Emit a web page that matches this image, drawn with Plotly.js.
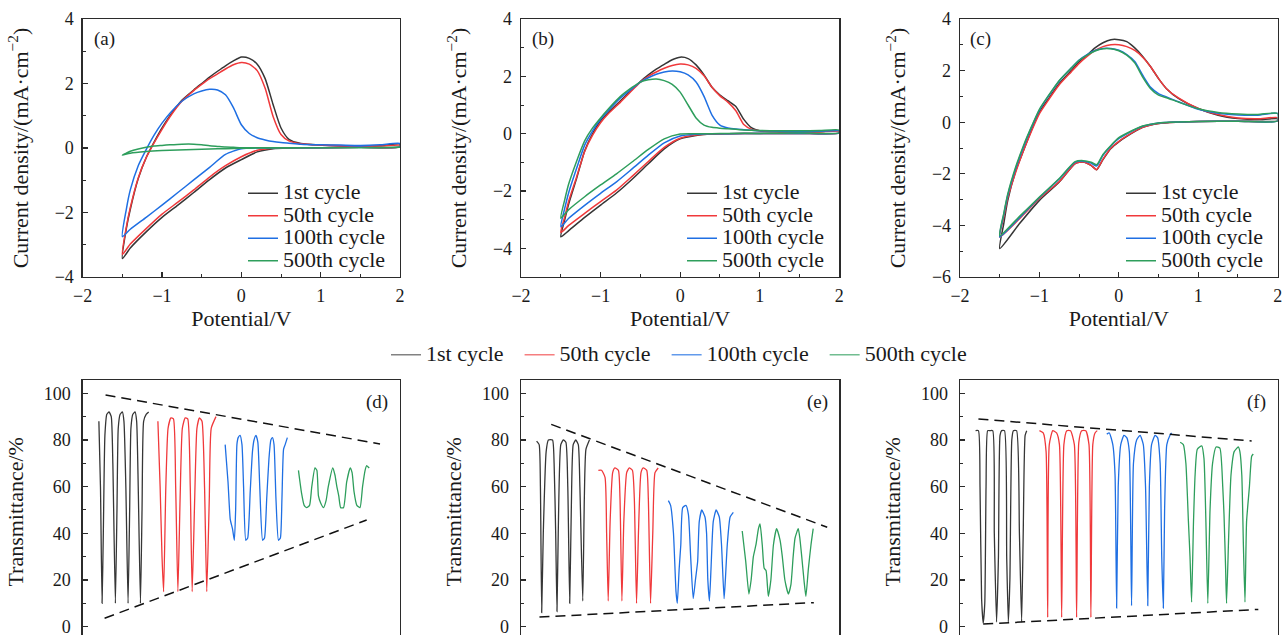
<!DOCTYPE html>
<html>
<head>
<meta charset="utf-8">
<script src="https://cdn.plot.ly/plotly-3.0.1.min.js"></script>
<style>
html,body{margin:0;padding:0;overflow:hidden;background:#fff;}
#chart{width:1284px;height:700px;}
</style>
</head>
<body>
<div id="chart"></div>
<script>
// ---------------- DATA ----------------
const cycleNames = ['1st cycle', '50th cycle', '100th cycle', '500th cycle'];
const cycleColors = ['#363636', '#f0393b', '#1f6fe3', '#2e9e5c'];
const legendSwatchColors = ['rgba(54,54,54,0.62)', 'rgba(240,57,59,0.65)', 'rgba(31,111,227,0.7)', 'rgba(46,158,92,0.68)'];

// Panel (a) – cyclic voltammetry
const aUpV = [-1.5,-1.45,-1.4,-1.3,-1.2,-1.1,-1.0,-0.9,-0.75,-0.6,-0.5,-0.4,-0.3,-0.2,-0.1,0,0.1,0.2,0.3,0.4,0.5,0.6,0.75,1.0,1.25,1.5,1.75,2.0];
const aLoV = [2.0,1.5,1.0,0.6,0.4,0.2,0,-0.2,-0.4,-0.6,-0.8,-1.0,-1.2,-1.4,-1.5];
const aUp1 = [-3.43,-2.5,-1.9,-0.95,-0.3,0.18,0.62,1.0,1.48,1.8,2.0,2.2,2.38,2.55,2.7,2.82,2.78,2.6,2.15,1.35,0.62,0.27,0.14,0.09,0.07,0.06,0.07,0.12];
const aUp2 = [-3.3,-2.45,-1.85,-0.93,-0.3,0.16,0.58,0.97,1.45,1.78,1.97,2.15,2.3,2.45,2.58,2.65,2.6,2.4,1.85,0.98,0.42,0.22,0.13,0.09,0.07,0.06,0.06,0.08];
const aUp3 = [-2.75,-1.9,-1.3,-0.55,-0.05,0.4,0.77,1.08,1.45,1.68,1.77,1.82,1.8,1.65,1.25,0.72,0.45,0.32,0.25,0.2,0.17,0.15,0.12,0.1,0.09,0.08,0.1,0.14];
const aUp4 = [-0.22,-0.16,-0.1,-0.03,0.02,0.06,0.08,0.1,0.12,0.12,0.1,0.07,0.05,0.03,0.02,0.01,0.01,0.01,0.01,0.01,0.01,0.01,0.01,0.01,0.01,0.01,0.01,0.02];
const aLo1 = [0.03,0.02,0.01,0.0,-0.02,-0.12,-0.36,-0.62,-0.98,-1.38,-1.77,-2.15,-2.6,-3.1,-3.43];
const aLo2 = [0.03,0.02,0.01,0.0,-0.01,-0.07,-0.27,-0.55,-0.9,-1.3,-1.68,-2.05,-2.5,-2.98,-3.3];
const aLo3 = [0.04,0.02,0.01,0.01,0.0,0.0,-0.02,-0.2,-0.6,-0.99,-1.38,-1.77,-2.15,-2.52,-2.75];
const aLo4 = [0.02,0.01,0.01,0.0,0.0,0.0,-0.01,-0.02,-0.03,-0.05,-0.06,-0.08,-0.11,-0.16,-0.22];

// Panel (b)
const bUpV = [-1.5,-1.45,-1.4,-1.3,-1.2,-1.1,-1.0,-0.9,-0.75,-0.6,-0.5,-0.4,-0.3,-0.2,-0.1,0,0.1,0.2,0.3,0.4,0.5,0.6,0.7,0.8,0.9,1.0,1.25,1.5,1.75,2.0];
const bLoV = [2.0,1.5,1.0,0.6,0.4,0.2,0,-0.2,-0.4,-0.6,-0.8,-1.0,-1.2,-1.4,-1.5];
const bUp1 = [-3.6,-3.0,-2.45,-1.55,-0.6,0.0,0.45,0.75,1.15,1.55,1.82,2.05,2.25,2.42,2.58,2.67,2.62,2.4,2.05,1.62,1.35,1.15,0.95,0.5,0.2,0.1,0.07,0.06,0.07,0.1];
const bUp2 = [-3.45,-2.9,-2.35,-1.5,-0.62,-0.05,0.38,0.7,1.1,1.52,1.8,2.0,2.15,2.28,2.38,2.43,2.4,2.28,2.02,1.62,1.32,1.1,0.8,0.32,0.15,0.1,0.07,0.06,0.06,0.08];
const bUp3 = [-3.25,-2.6,-2.05,-1.2,-0.4,0.1,0.5,0.82,1.25,1.58,1.8,1.95,2.07,2.15,2.19,2.16,2.05,1.8,1.3,0.65,0.3,0.2,0.16,0.14,0.12,0.1,0.08,0.07,0.08,0.1];
const bUp4 = [-2.95,-2.3,-1.75,-0.95,-0.25,0.2,0.55,0.87,1.3,1.62,1.8,1.88,1.91,1.85,1.72,1.45,1.0,0.55,0.3,0.22,0.19,0.17,0.15,0.13,0.12,0.11,0.1,0.1,0.11,0.13];
const bLo1 = [0.02,0.01,0.01,0.0,-0.01,-0.06,-0.18,-0.53,-1.05,-1.58,-2.07,-2.49,-2.92,-3.38,-3.6];
const bLo2 = [0.02,0.01,0.01,0.0,-0.01,-0.05,-0.16,-0.48,-0.97,-1.48,-1.97,-2.37,-2.78,-3.2,-3.45];
const bLo3 = [0.02,0.01,0.01,0.0,0.0,-0.02,-0.08,-0.32,-0.75,-1.22,-1.68,-2.08,-2.5,-2.95,-3.25];
const bLo4 = [0.03,0.02,0.01,0.01,0.0,0.0,-0.01,-0.18,-0.55,-0.98,-1.4,-1.79,-2.2,-2.65,-2.95];

// Panel (c)
const cUpV = [-1.5,-1.45,-1.4,-1.3,-1.2,-1.1,-1.0,-0.9,-0.75,-0.6,-0.5,-0.4,-0.3,-0.2,-0.1,0,0.1,0.2,0.3,0.4,0.5,0.6,0.75,1.0,1.25,1.5,1.75,2.0];
const cLoV = [2.0,1.5,1.0,0.75,0.5,0.3,0.1,0,-0.1,-0.2,-0.28,-0.35,-0.45,-0.55,-0.75,-1.0,-1.25,-1.5];
const cUp1 = [-4.9,-3.95,-3.05,-1.9,-1.1,-0.3,0.4,0.85,1.5,2.0,2.34,2.6,2.88,3.08,3.2,3.2,3.12,2.88,2.55,2.15,1.69,1.3,0.92,0.53,0.27,0.14,0.1,0.13];
const cUp2 = [-4.45,-3.7,-2.95,-1.95,-1.1,-0.35,0.33,0.8,1.45,1.95,2.28,2.55,2.78,2.93,3.0,3.0,2.93,2.78,2.52,2.15,1.69,1.3,0.94,0.53,0.3,0.16,0.13,0.18];
const cUp3 = [-4.45,-3.6,-2.85,-1.8,-0.95,-0.2,0.47,0.95,1.6,2.1,2.41,2.62,2.78,2.86,2.86,2.79,2.62,2.35,1.82,1.35,1.11,0.98,0.79,0.5,0.35,0.28,0.27,0.34];
const cUp4 = [-4.4,-3.55,-2.8,-1.75,-0.9,-0.17,0.5,0.97,1.62,2.1,2.4,2.6,2.76,2.85,2.85,2.77,2.6,2.3,1.75,1.3,1.05,0.95,0.78,0.52,0.38,0.32,0.3,0.34];
const cLo1 = [0.05,0.04,0.03,0.0,-0.05,-0.2,-0.55,-0.76,-1.02,-1.45,-1.84,-1.67,-1.54,-1.6,-2.32,-3.03,-3.93,-4.9];
const cLo2 = [0.05,0.04,0.03,0.0,-0.05,-0.2,-0.53,-0.74,-1.0,-1.43,-1.84,-1.67,-1.54,-1.6,-2.3,-2.96,-3.74,-4.45];
const cLo3 = [0.05,0.04,0.03,0.01,-0.03,-0.16,-0.45,-0.63,-0.92,-1.28,-1.7,-1.58,-1.51,-1.55,-2.2,-2.92,-3.7,-4.45];
const cLo4 = [0.05,0.04,0.03,0.01,-0.03,-0.15,-0.43,-0.6,-0.9,-1.25,-1.65,-1.55,-1.49,-1.53,-2.18,-2.9,-3.65,-4.4];

// Panel (d) – transmittance vs time (relative units)
const dT1 = [5.1,5.6,6.1,6.5,7.0,7.6,8.3,9.0,9.5,10.3,10.8,11.2,11.8,12.5,13.0,13.6,14.3,14.8,15.2,15.8,16.5,17.0,17.5,18.2,18.7,19.2,20.0,20.8];
const dY1 = [88,60,10,40,82,91,92,90,70,10,50,85,91,92,88,60,10,50,85,91,92,88,60,10,50,88,91,92];
const dT2 = [23.7,24.4,25.0,25.5,26.2,26.9,27.8,28.6,29.3,30.0,30.7,31.4,32.3,33.1,33.9,34.5,35.3,36.0,36.8,37.6,38.4,39.1,39.9,40.5,42.0];
const dY2 = [88,60,30,15,60,85,89.5,89,60,15,55,85,89.5,89,60,15,55,85,89.5,88,60,15,55,85,90];
const dT3 = [44.9,45.8,46.5,47.2,47.8,48.2,48.6,49.0,49.6,50.2,50.7,51.4,52.0,52.8,53.5,54.0,54.6,55.2,55.8,56.7,57.3,58.0,58.7,59.3,59.8,60.3,60.9,61.7,62.3,62.8,63.3,63.8,64.5];
const dY3 = [78,62,46,42,37,50,78,81,82,78,60,37,38,58,75,80,82,79,60,37,38,55,72,80,81,78,55,37,38,55,76,78,81];
const dT4 = [68.0,69.0,69.8,70.6,71.5,72.2,73.2,73.8,74.3,75.0,75.9,76.7,77.4,78.8,79.5,80.1,80.7,81.3,82.2,83.2,84.3,84.9,85.5,86.4,87.4,88.2,89.0,89.5,90.3];
const dY4 = [67,57,52,51,52,60,68,67,56,53,51,54,60,68,65,60,56,51,51,62,68,66,58,52,51,60,67,69,68];
const dUpT = [7.2, 93.7], dUpY = [99.3, 78.3];
const dLoT = [6.9, 89.5], dLoY = [3.6, 45.7];

// Panel (e)
const eT1 = [4.9,5.7,6.1,6.5,7.0,7.9,8.6,9.9,10.4,10.9,11.3,11.7,12.5,13.3,14.1,14.7,15.3,15.8,16.4,17.2,18.0,18.5,19.4,19.9,20.4,21.5];
const eY1 = [79.5,78,60,6,40,75,80,80,70,40,6.5,40,78,80,79,60,10,50,78,80,78,60,11,55,76,80];
const eT2 = [24.3,25.3,26.4,26.9,27.4,28.0,28.8,29.5,30.6,31.1,31.7,32.3,33.2,34.0,35.0,35.6,36.3,36.9,37.7,38.4,39.5,40.0,40.7,41.4,42.1,43.1];
const eY2 = [67,67,64,40,11,45,66,68,67,55,11,45,66,68,67,55,10,40,66,68,67,55,10,40,66,68];
const eT3 = [46.3,47.0,47.9,48.7,49.1,49.7,50.2,50.8,51.8,52.6,53.3,54.1,54.8,55.5,56.0,56.8,57.8,58.3,58.7,59.2,59.7,60.4,61.3,62.3,63.0,63.8,64.2,64.8,65.7,66.7];
const eY3 = [54,52,40,15,10,25,35,51,52,48,30,12,20,28,45,50,47,40,20,11,25,45,50,47,35,12,20,35,47,49];
const eT4 = [69.5,70.6,71.6,72.3,73.0,73.8,74.6,75.1,75.8,76.4,77.0,77.7,78.5,79.3,80.3,81.4,82.1,82.9,84.0,84.8,85.5,86.1,87.1,87.6,88.2,88.9,89.5,90.3,91.1,91.8];
const eY4 = [41,28,14,20,30,35,42,44,35,25,24,13,20,35,42,37,30,20,14,18,30,38,42,38,30,20,13,25,35,42];
const eUpT = [9.5, 96.2], eUpY = [86.7, 42.6];
const eLoT = [5.8, 92.0], eLoY = [4.1, 10.3];

// Panel (f)
const fT1 = [4.9,5.8,6.3,6.8,7.3,7.8,8.2,8.7,9.4,10.3,10.8,11.5,12.1,12.6,13.1,14.0,14.7,15.2,15.7,16.3,16.8,17.8,18.7,19.4,19.9,20.5,21.0];
const fY1 = [84,84,60,12,1.5,10,60,84,84,84,40,2,30,82,84,84,30,2,20,80,84,84,40,2,40,82,84];
const fT2 = [25.0,26.2,27.1,27.6,28.1,29.2,30.4,31.3,32.0,32.7,33.6,34.8,36.0,36.7,37.4,38.3,39.6,40.6,41.2,41.8,42.5,43.2];
const fY2 = [84,83,75,4,78,84,83,78,4,78,84,84,78,4,79,84,84,78,4,78,83,84];
const fT3 = [46.2,47.0,48.1,48.8,49.3,49.8,50.6,51.6,52.5,53.3,54.0,54.6,55.6,56.7,57.7,58.4,59.1,59.6,60.3,61.4,62.2,63.0,63.5,64.0,64.4,65.1,66.1,66.6];
const fY3 = [82.5,83,78,65,8,60,78,82,81,75,9,70,80,82,78,60,9,60,78,82,81,70,30,8,50,78,82,83];
const fT4 = [69.3,70.3,71.1,71.9,72.4,72.9,73.5,74.0,74.7,76.1,76.8,77.4,78.0,78.7,79.5,80.6,81.8,82.7,83.1,83.6,83.9,84.6,85.3,86.3,87.6,88.1,88.7,89.2,89.7,90.2,91.1,91.8,92.3];
const fY4 = [79,78,70,45,30,10.5,45,65,76,77.5,72,45,10,50,70,77,76.5,60,48,25,10,40,65,75,77,75,65,35,10.5,45,60,73,74];
const fUpT = [5.8, 91.8], fUpY = [89, 79.6];
const fLoT = [7.3, 93.9], fLoY = [1.1, 7.4];

const yTicksTrans = [0,20,40,60,80,100];

// ---------------- LAYOUT HELPERS ----------------
const W = 1284, H = 700;
const FONT = 'Liberation Serif, Times New Roman, serif';
const dx = (a, b) => [a / W, b / W];
const dy = (top, bottom) => [1 - bottom / H, 1 - top / H];
const px = v => v / W, py = v => 1 - v / H;
const AX = '#2b2b2b';
const TXT = '#1a1a1a';

function cvX(dom, yref) {
  return {
    domain: dom, anchor: yref, range: [-2, 2], dtick: 1, tick0: 0,
    ticks: 'inside', ticklen: 5, tickwidth: 1.1, tickcolor: AX,
    minor: {dtick: 0.5, ticks: 'inside', ticklen: 3, tickwidth: 1, tickcolor: AX},
    showline: true, mirror: true, linecolor: AX, linewidth: 1.3,
    showgrid: false, zeroline: false,
    tickfont: {family: FONT, size: 18, color: TXT}, ticklabelstandoff: 2,
    title: {text: 'Potential/V', font: {family: FONT, size: 22, color: TXT}, standoff: 5}
  };
}
function cvY(dom, xref, range) {
  return {
    domain: dom, anchor: xref, range: range, dtick: 2, tick0: 0,
    ticks: 'inside', ticklen: 5, tickwidth: 1.1, tickcolor: AX,
    minor: {dtick: 1, ticks: 'inside', ticklen: 3, tickwidth: 1, tickcolor: AX},
    showline: true, mirror: true, linecolor: AX, linewidth: 1.3,
    showgrid: false, zeroline: false,
    tickfont: {family: FONT, size: 18, color: TXT}, ticklabelstandoff: 4,
    title: {text: 'Current density/(mA·cm<sup>−2</sup>)', font: {family: FONT, size: 22, color: TXT}, standoff: 20}
  };
}
function trX(dom, yref) {
  return {
    domain: dom, anchor: yref, range: [0, 100],
    showticklabels: false, ticks: '',
    showline: true, mirror: true, linecolor: AX, linewidth: 1.3,
    showgrid: false, zeroline: false
  };
}
function trY(dom, xref) {
  return {
    domain: dom, anchor: xref, range: [-7.3, 105.7], tickvals: yTicksTrans,
    ticks: 'inside', ticklen: 5, tickwidth: 1.1, tickcolor: AX,
    minor: {tickvals: [10,30,50,70,90], ticks: 'inside', ticklen: 3, tickwidth: 1, tickcolor: AX},
    showline: true, mirror: true, linecolor: AX, linewidth: 1.3,
    showgrid: false, zeroline: false,
    tickfont: {family: FONT, size: 18, color: TXT}, ticklabelstandoff: 7,
    title: {text: 'Transmittance/%', font: {family: FONT, size: 22, color: TXT}, standoff: 14}
  };
}

// ---------------- TRACES ----------------
const traces = [];
function cvPanel(upV, loV, ups, los, xa, ya, legendId) {
  for (let k = 0; k < 4; k++) {
    traces.push({
      type: 'scatter', mode: 'lines',
      x: upV.concat(loV), y: ups[k].concat(los[k]),
      xaxis: xa, yaxis: ya,
      name: '<span style="font-size:22px">' + cycleNames[k] + '</span>',
      legend: legendId, showlegend: true,
      line: {color: cycleColors[k], width: 1.5, shape: 'spline', smoothing: 0.6},
      hoverinfo: 'skip'
    });
  }
}
cvPanel(aUpV, aLoV, [aUp1, aUp2, aUp3, aUp4], [aLo1, aLo2, aLo3, aLo4], 'x', 'y', 'legend');
cvPanel(bUpV, bLoV, [bUp1, bUp2, bUp3, bUp4], [bLo1, bLo2, bLo3, bLo4], 'x2', 'y2', 'legend2');
cvPanel(cUpV, cLoV, [cUp1, cUp2, cUp3, cUp4], [cLo1, cLo2, cLo3, cLo4], 'x3', 'y3', 'legend3');

function trPanel(ts, ys, up, lo, xa, ya) {
  for (let k = 0; k < 4; k++) {
    traces.push({
      type: 'scatter', mode: 'lines', x: ts[k], y: ys[k], xaxis: xa, yaxis: ya,
      name: cycleNames[k], legend: 'legend4', showlegend: false,
      line: {color: cycleColors[k], width: 1.3, shape: 'spline', smoothing: 0.5},
      hoverinfo: 'skip'
    });
  }
  [up, lo].forEach(d => traces.push({
    type: 'scatter', mode: 'lines', x: d[0], y: d[1], xaxis: xa, yaxis: ya,
    showlegend: false, line: {color: '#111', width: 1.5, dash: '10px,6px'}, hoverinfo: 'skip'
  }));
}
trPanel([dT1, dT2, dT3, dT4], [dY1, dY2, dY3, dY4], [dUpT, dUpY], [dLoT, dLoY], 'x4', 'y4');
trPanel([eT1, eT2, eT3, eT4], [eY1, eY2, eY3, eY4], [eUpT, eUpY], [eLoT, eLoY], 'x5', 'y5');
trPanel([fT1, fT2, fT3, fT4], [fY1, fY2, fY3, fY4], [fUpT, fUpY], [fLoT, fLoY], 'x6', 'y6');

// shared legend between the two rows (legend-only entries, lighter swatches as in the figure)
for (let k = 0; k < 4; k++) {
  traces.push({
    type: 'scatter', mode: 'lines', x: [null], y: [null], xaxis: 'x4', yaxis: 'y4',
    name: '<span style="font-size:22px">' + cycleNames[k] + '\u00A0\u00A0</span>',
    legend: 'legend4', showlegend: true,
    line: {color: legendSwatchColors[k], width: 1.6}, hoverinfo: 'skip'
  });
}

// ---------------- LAYOUT ----------------
const topDom = dy(19, 277), botDom = dy(380, 643.7);
const colA = dx(82.7, 400), colB = dx(521, 839.3), colC = dx(960, 1277.7);

function cvLegend(leftPx) {
  return {
    x: px(leftPx), y: py(177), xanchor: 'left', yanchor: 'top',
    bgcolor: 'rgba(0,0,0,0)', borderwidth: 0, tracegroupgap: 0,
    font: {family: FONT, size: 15, color: TXT}, itemwidth: 30
  };
}

function panelLabel(text, xpx, ypx) {
  return {text: text, xref: 'paper', yref: 'paper', x: px(xpx), y: py(ypx),
    xanchor: 'center', yanchor: 'middle', showarrow: false,
    font: {family: FONT, size: 19, color: TXT}};
}

const layout = {
  width: W, height: H,
  margin: {l: 0, r: 0, t: 0, b: 0},
  paper_bgcolor: '#fff', plot_bgcolor: '#fff',
  font: {family: FONT, color: TXT},
  xaxis: cvX(colA, 'y'), yaxis: cvY(topDom, 'x', [-4, 4]),
  xaxis2: cvX(colB, 'y2'), yaxis2: cvY(topDom, 'x2', [-5, 4]),
  xaxis3: cvX(colC, 'y3'), yaxis3: cvY(topDom, 'x3', [-6, 4]),
  xaxis4: trX(colA, 'y4'), yaxis4: trY(botDom, 'x4'),
  xaxis5: trX(colB, 'y5'), yaxis5: trY(botDom, 'x5'),
  xaxis6: trX(colC, 'y6'), yaxis6: trY(botDom, 'x6'),
  legend: cvLegend(243),
  legend2: cvLegend(682),
  legend3: cvLegend(1121),
  legend4: {
    orientation: 'h', x: px(386), y: py(355), xanchor: 'left', yanchor: 'middle',
    bgcolor: 'rgba(0,0,0,0)', borderwidth: 0, itemwidth: 30,
    font: {family: FONT, size: 15, color: TXT}
  },
  annotations: [
    panelLabel('(a)', 104, 39.5), panelLabel('(b)', 543, 39.5), panelLabel('(c)', 980, 39.5),
    panelLabel('(d)', 376.5, 402.5), panelLabel('(e)', 817.5, 402.5), panelLabel('(f)', 1256.5, 402.5)
  ],
  showlegend: true
};

Plotly.newPlot('chart', traces, layout, {staticPlot: true, displayModeBar: false});
</script>
</body>
</html>
